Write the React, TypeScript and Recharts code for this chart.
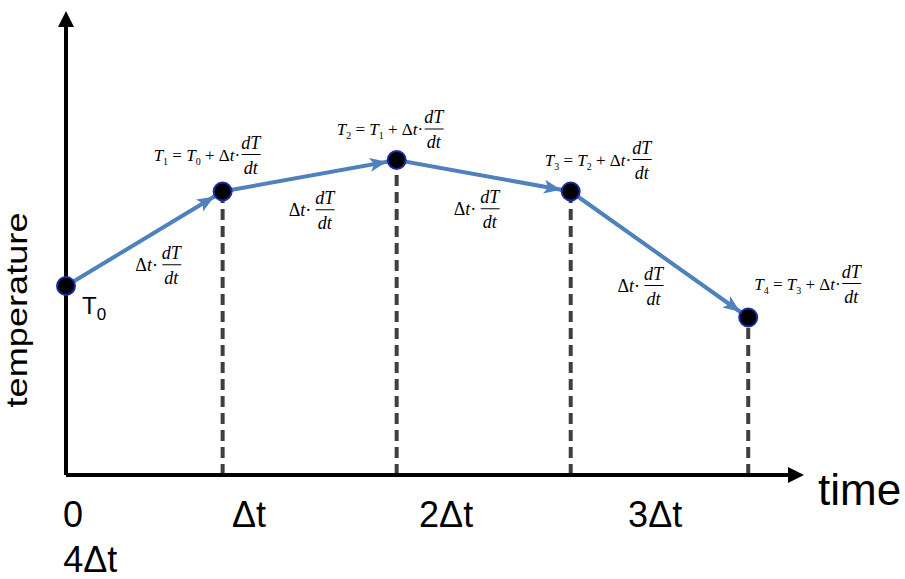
import { ComposedChart, Line, XAxis, YAxis, ReferenceLine, ReferenceDot } from "recharts"

// time steps (in units of Δt) and temperature values
const times = [0, 0.9, 1.9, 2.9, 3.92]
const temps = [42, 63, 70, 63, 35]

const xTicks = [0, 1, 2, 3, 4]
const xTickLabels = ["0", "Δt", "2Δt", "3Δt", "4Δt"]

// label offsets in px (layout only)
const tickOffsets = [[-3, 52], [-8, 52], [5, 52], [40, 52], [-699, 97]]
const formulaOffsets = [[16, 28], [-69, -31], [-60, -25], [-26, -26], [6, -28]]
const stepOffsets = [[-9, 32], [-21, 40], [-30, 39], [-42, 37]]

const BLUE = "#4f81bd"
const SANS = "'Liberation Sans', Arial, sans-serif"
const SERIF = "'Liberation Serif', 'Times New Roman', serif"

const data = times.map((t, i) => ({ t, temp: temps[i] }))

function Frac({ x, y }: { x: number; y: number }) {
  return (
    <g fontFamily={SERIF} fontSize={18} fontStyle="italic" fill="#000">
      <text x={x + 9} y={y - 12} textAnchor="middle">dT</text>
      <line x1={x} x2={x + 19} y1={y - 6} y2={y - 6} stroke="#000" strokeWidth={1} />
      <text x={x + 9} y={y + 13} textAnchor="middle">dt</text>
    </g>
  )
}

function StepText({ x, y }: { x: number; y: number }) {
  return (
    <g>
      <text x={x} y={y} fontFamily={SERIF} fontSize={18} fill="#000">
        Δ<tspan fontStyle="italic">t</tspan>·
      </text>
      <Frac x={x + 27} y={y} />
    </g>
  )
}

function Formula({ x, y, n }: { x: number; y: number; n: number }) {
  return (
    <g>
      <text x={x} y={y} fontFamily={SERIF} fontSize={17} fill="#000">
        <tspan fontStyle="italic">T</tspan>
        <tspan fontSize={10} dy={4}>{n}</tspan>
        <tspan dy={-4}> = </tspan>
        <tspan fontStyle="italic">T</tspan>
        <tspan fontSize={10} dy={4}>{n - 1}</tspan>
        <tspan dy={-4}> + Δ</tspan>
        <tspan fontStyle="italic">t</tspan>·
      </text>
      <Frac x={x + 88} y={y} />
    </g>
  )
}

function T0Label({ x, y }: { x: number; y: number }) {
  return (
    <text x={x} y={y} fontFamily={SANS} fontSize={24} fill="#000">
      T<tspan fontSize={17} dy={6}>0</tspan>
    </text>
  )
}

function XTick(props: any) {
  const { x, y, index } = props
  const [dx, dy] = tickOffsets[index] || [0, 52]
  return (
    <text x={x + dx} y={y + dy} fontFamily={SANS} fontSize={36} fill="#000" textAnchor="start">
      {xTickLabels[index]}
    </text>
  )
}

export default function App() {
  return (
    <div style={{ position: "absolute", left: 0, top: 0, width: 905, height: 579, background: "#fff" }}>
      <ComposedChart width={905} height={579} data={data} margin={{ top: 25, right: 115, bottom: 74, left: 26 }}>
        <defs>
          <marker id="axisArrow" viewBox="0 0 18 16" markerUnits="userSpaceOnUse" markerWidth={18} markerHeight={16} refX={2} refY={8} orient="auto-start-reverse">
            <path d="M0,0 L16,8 L0,16 Z" fill="#000" />
          </marker>
          <marker id="blueArrow" viewBox="0 0 18 16" markerUnits="userSpaceOnUse" markerWidth={18} markerHeight={16} refX={27} refY={8} orient="auto">
            <path d="M0,1 L17,8 L0,15 L4,8 Z" fill={BLUE} />
          </marker>
        </defs>
        <XAxis
          type="number"
          dataKey="t"
          domain={[0, 4.16]}
          ticks={xTicks}
          interval={0}
          tickLine={false}
          tickSize={0}
          tickMargin={0}
          height={30}
          axisLine={{ stroke: "#000", strokeWidth: 4, markerEnd: "url(#axisArrow)" }}
          tick={(p: any) => <XTick {...p} />}
          label={{
            content: ({ viewBox }: any) => (
              <text x={viewBox.x + viewBox.width + 28} y={viewBox.y + 30} fontFamily={SANS} fontSize={44} fill="#000">
                time
              </text>
            ),
          }}
        />
        <YAxis
          type="number"
          domain={[0, 100]}
          width={40}
          tick={false}
          tickLine={false}
          axisLine={{ stroke: "#000", strokeWidth: 4, markerStart: "url(#axisArrow)" }}
          label={{
            content: ({ viewBox }: any) => {
              const cx = 27
              const cy = viewBox.y + viewBox.height / 2 + 60
              return (
                <text x={cx} y={cy} transform={`rotate(-90, ${cx}, ${cy})`} textAnchor="middle" fontFamily={SANS} fontSize={30} textLength={195} lengthAdjust="spacingAndGlyphs" fill="#000">
                  temperature
                </text>
              )
            },
          }}
        />
        {times.slice(1).map((t, i) => (
          <ReferenceLine
            key={"drop" + i}
            segment={[{ x: t, y: 0 }, { x: t, y: temps[i + 1] }]}
            stroke="#3f3f3f"
            strokeWidth={4}
            strokeDasharray="11 6"
          />
        ))}
        <Line
          dataKey="temp"
          stroke={BLUE}
          strokeWidth={4}
          isAnimationActive={false}
          dot={{ r: 9, fill: "#000", stroke: "#1c2aa8", strokeWidth: 2 }}
          activeDot={false}
        />
        {times.slice(1).map((t, i) => (
          <ReferenceLine
            key={"arrow" + i}
            segment={[{ x: times[i], y: temps[i] }, { x: t, y: temps[i + 1] }]}
            stroke="none"
            markerEnd="url(#blueArrow)"
          />
        ))}
        {times.slice(1).map((t, i) => (
          <ReferenceDot
            key={"step" + i}
            x={(times[i] + t) / 2}
            y={(temps[i] + temps[i + 1]) / 2}
            r={0}
            fill="none"
            stroke="none"
            label={{
              content: ({ viewBox }: any) => (
                <StepText x={viewBox.x + stepOffsets[i][0]} y={viewBox.y + stepOffsets[i][1]} />
              ),
            }}
          />
        ))}
        {times.map((t, i) => (
          <ReferenceDot
            key={"f" + i}
            x={t}
            y={temps[i]}
            r={0}
            fill="none"
            stroke="none"
            label={{
              content: ({ viewBox }: any) =>
                i === 0 ? (
                  <T0Label x={viewBox.x + formulaOffsets[0][0]} y={viewBox.y + formulaOffsets[0][1]} />
                ) : (
                  <Formula x={viewBox.x + formulaOffsets[i][0]} y={viewBox.y + formulaOffsets[i][1]} n={i} />
                ),
            }}
          />
        ))}
      </ComposedChart>
    </div>
  )
}
